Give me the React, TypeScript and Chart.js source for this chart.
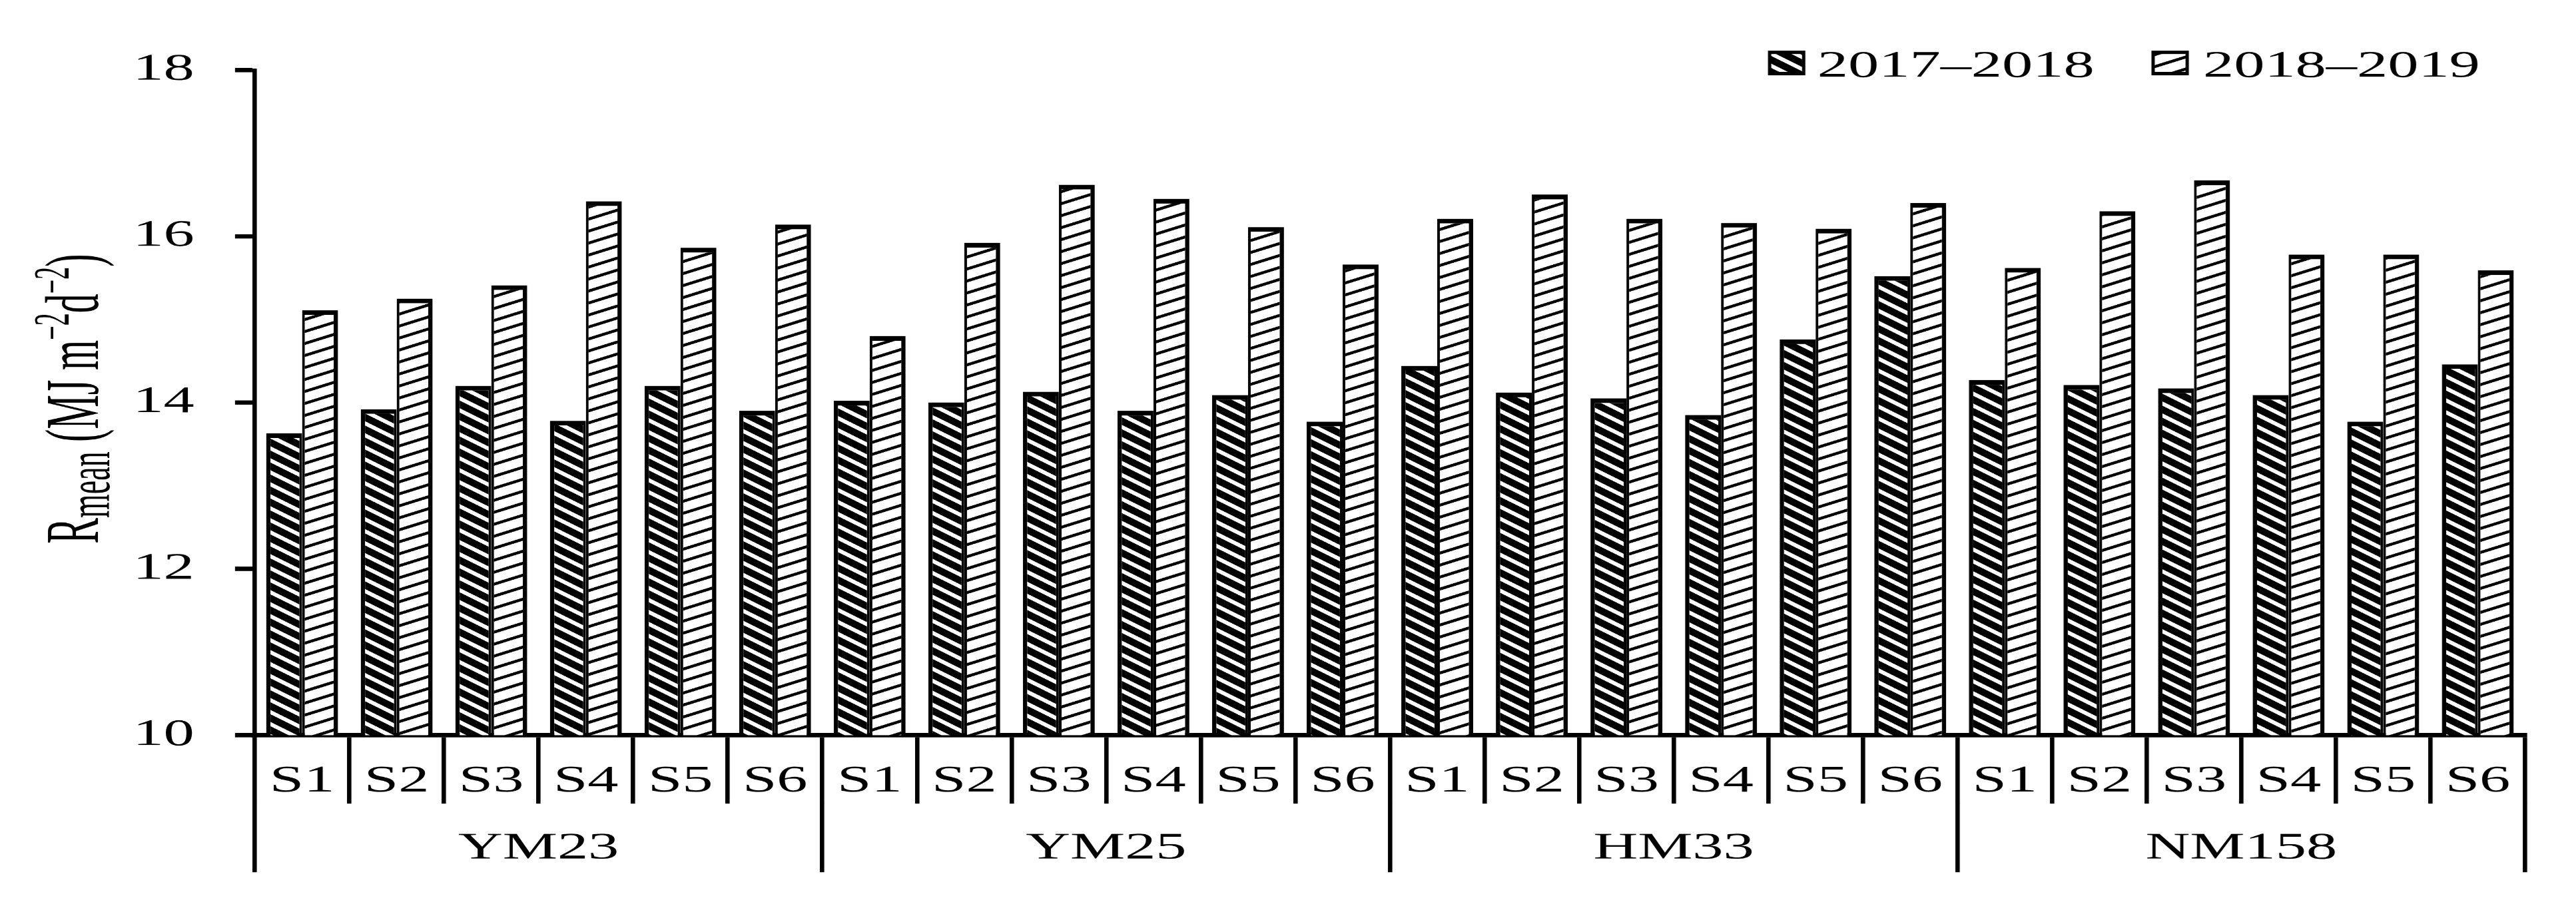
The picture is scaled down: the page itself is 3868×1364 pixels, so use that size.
import React, { useEffect, useRef } from 'react';
import { Chart, registerables } from 'chart.js';

Chart.register(...registerables);

// ---------- data ----------
const groups = ['YM23', 'YM25', 'HM33', 'NM158'];
const sites = ['S1', 'S2', 'S3', 'S4', 'S5', 'S6'];
const seriesLabels = ['2017\u20132018', '2018\u20132019'];
const values2017 = [
  13.63, 13.92, 14.2, 13.78, 14.2, 13.9,
  14.02, 14.0, 14.13, 13.9, 14.09, 13.77,
  14.44, 14.12, 14.05, 13.85, 14.76, 15.52,
  14.27, 14.21, 14.17, 14.09, 13.77, 14.46,
];
const values2018 = [
  15.11, 15.25, 15.41, 16.42, 15.86, 16.14,
  14.8, 15.92, 16.62, 16.45, 16.11, 15.66,
  16.21, 16.5, 16.21, 16.16, 16.09, 16.4,
  15.62, 16.3, 16.67, 15.78, 15.78, 15.59,
];
const yMin = 10;
const yMax = 18;
const yStep = 2;
const categories = groups.flatMap(() => sites);

// ---------- layout ----------
const STRETCH = 1.65;
const W0 = 2334;
const H0 = 1344;
const FONT = '"Liberation Serif", "Times New Roman", serif';

function makePattern(kind: number): CanvasPattern {
  const R = 4;
  const w = kind === 0 ? 22 : 35;
  const h = 18;
  const c = document.createElement('canvas');
  c.width = w * R;
  c.height = h * R;
  const g = c.getContext('2d')!;
  g.scale(R, R);
  if (kind === 0) {
    g.fillStyle = '#000';
    g.fillRect(0, 0, w, h);
    g.strokeStyle = '#fff';
    g.lineWidth = 5;
    for (let k = -3; k <= 3; k++) {
      g.beginPath();
      g.moveTo(-w, -h + k * h);
      g.lineTo(2 * w, 2 * h + k * h);
      g.stroke();
    }
  } else {
    g.fillStyle = '#fff';
    g.fillRect(0, 0, w, h);
    g.strokeStyle = '#000';
    g.lineWidth = 4;
    for (let k = -3; k <= 3; k++) {
      g.beginPath();
      g.moveTo(-w, 2 * h + k * h);
      g.lineTo(2 * w, -h + k * h);
      g.stroke();
    }
  }
  const p = g.createPattern(c, 'repeat')!;
  p.setTransform(new DOMMatrix().scale(1 / R, 1 / R));
  return p;
}

const overlayPlugin = {
  id: 'overlay',
  afterDraw(chart: any) {
    const ctx: CanvasRenderingContext2D = chart.ctx;
    // y-axis title (rich text)
    ctx.save();
    ctx.translate(84, 591);
    ctx.rotate(-Math.PI / 2);
    ctx.scale(1, 1.2);
    ctx.fillStyle = '#000';
    ctx.textAlign = 'left';
    ctx.textBaseline = 'alphabetic';
    const segs = [
      { t: 'R', s: 58, dy: 0 },
      { t: 'mean', s: 46, dy: 9 },
      { t: ' (MJ m', s: 58, dy: 0 },
      { t: '\u22122', s: 38, dy: -22 },
      { t: 'd', s: 58, dy: 0 },
      { t: '\u22122', s: 38, dy: -22 },
      { t: ')', s: 58, dy: 0 },
    ];
    const widths = segs.map((sg) => {
      ctx.font = `${sg.s}px ${FONT}`;
      return ctx.measureText(sg.t).width;
    });
    const total = widths.reduce((a, b) => a + b, 0);
    let x = -total / 2;
    segs.forEach((sg, i) => {
      ctx.font = `${sg.s}px ${FONT}`;
      ctx.fillText(sg.t, x, sg.dy);
      x += widths[i];
    });
    ctx.restore();

    // legend
    ctx.save();
    const items = [
      { bx: 1604, tx: 1649 },
      { bx: 1953, tx: 2000 },
    ];
    ctx.font = `56px ${FONT}`;
    ctx.textAlign = 'left';
    ctx.textBaseline = 'alphabetic';
    items.forEach((it, i) => {
      const ds = chart.data.datasets[i];
      ctx.fillStyle = '#000';
      ctx.fillRect(it.bx, 68, 34, 37);
      ctx.fillStyle = ds.backgroundColor;
      ctx.fillRect(it.bx + 3, 73, 28, 27);
      ctx.fillStyle = '#000';
      ctx.fillText(ds.label, it.tx, 107);
    });
    ctx.restore();
  },
};

export default function App() {
  const ref = useRef<HTMLCanvasElement>(null);
  useEffect(() => {
    const p0 = makePattern(0);
    const p1 = makePattern(1);
    const chart = new Chart(ref.current!, {
      type: 'bar',
      data: {
        labels: categories,
        datasets: [
          {
            label: seriesLabels[0],
            data: values2017,
            backgroundColor: p0 as any,
            borderColor: '#000',
            borderWidth: { top: 7, left: 4, right: 2.5, bottom: 0 } as any,
            borderSkipped: 'start',
            categoryPercentage: 0.76,
            barPercentage: 1.0,
          },
          {
            label: seriesLabels[1],
            data: values2018,
            backgroundColor: p1 as any,
            borderColor: '#000',
            borderWidth: { top: 7, left: 2.5, right: 4, bottom: 0 } as any,
            borderSkipped: 'start',
            categoryPercentage: 0.76,
            barPercentage: 1.0,
          },
        ],
      },
      options: {
        animation: false,
        responsive: true,
        maintainAspectRatio: false,
        devicePixelRatio: STRETCH,
        layout: { padding: { top: 97, right: 41, bottom: 42, left: 0 } },
        plugins: {
          legend: { display: false },
          tooltip: { enabled: false },
          title: { display: false },
        },
        scales: {
          x: {
            type: 'category',
            position: 'bottom',
            weight: 0,
            offset: true,
            grid: {
              offset: true,
              drawOnChartArea: false,
              drawTicks: true,
              tickLength: 103,
              lineWidth: 4,
              color: '#000',
            },
            border: { display: true, width: 6.5, color: '#000' },
            ticks: {
              font: { family: FONT, size: 56 },
              color: '#000',
              padding: -67,
              autoSkip: false,
              maxRotation: 0,
              minRotation: 0,
            },
            afterFit: (s: any) => {
              s.height = 103;
            },
          },
          x2: {
            type: 'category',
            labels: groups,
            position: 'bottom',
            weight: 1,
            offset: true,
            grid: {
              offset: true,
              drawOnChartArea: false,
              drawTicks: true,
              tickLength: 103,
              lineWidth: 4,
              color: '#000',
            },
            border: { display: false },
            ticks: {
              font: { family: FONT, size: 56 },
              color: '#000',
              padding: -69,
              autoSkip: false,
              maxRotation: 0,
              minRotation: 0,
            },
            afterFit: (s: any) => {
              s.height = 103;
            },
          },
          y: {
            type: 'linear',
            position: 'left',
            min: yMin,
            max: yMax,
            grid: {
              drawOnChartArea: false,
              drawTicks: true,
              tickLength: 18,
              lineWidth: 6.5,
              color: '#000',
            },
            border: { display: true, width: 4, color: '#000' },
            ticks: {
              stepSize: yStep,
              font: { family: FONT, size: 56 },
              color: '#000',
              padding: 37,
            },
            afterFit: (s: any) => {
              s.width = 227;
            },
          },
        },
      } as any,
      plugins: [overlayPlugin],
    });
    return () => chart.destroy();
  }, []);
  return (
    <div
      style={{
        width: W0,
        height: H0,
        transform: `scaleX(${STRETCH})`,
        transformOrigin: '0 0',
      }}
    >
      <canvas ref={ref} />
    </div>
  );
}
